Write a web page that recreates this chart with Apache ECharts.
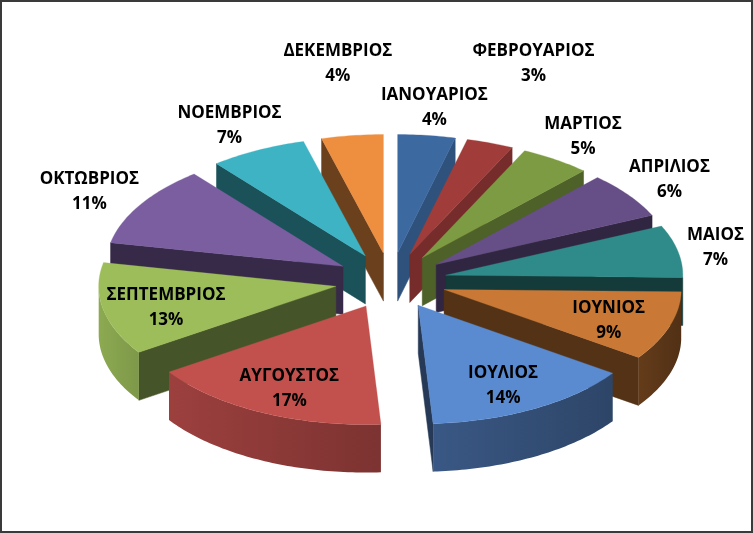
<!DOCTYPE html>
<html>
<head>
<meta charset="utf-8">
<script src="https://cdn.jsdelivr.net/npm/echarts@6/dist/echarts.min.js"></script>
<style>
  html, body { margin: 0; padding: 0; background: #fff; }
  #wrap { position: relative; width: 753px; height: 533px; }
  #chart { position: absolute; left: 0; top: 0; width: 753px; height: 533px; }
  #frame { position: absolute; left: 0; top: 0; width: 753px; height: 533px; box-sizing: border-box;
           border: 2px solid #3a3a3a; pointer-events: none; }
</style>
</head>
<body>
<div id="wrap"><div id="chart"></div><div id="frame"></div></div>
<script>
/* 3D exploded pie — monthly shares (labels show rounded %) */
const months = ['ΙΑΝΟΥΑΡΙΟΣ', 'ΦΕΒΡΟΥΑΡΙΟΣ', 'ΜΑΡΤΙΟΣ', 'ΑΠΡΙΛΙΟΣ', 'ΜΑΙΟΣ', 'ΙΟΥΝΙΟΣ',
  'ΙΟΥΛΙΟΣ', 'ΑΥΓΟΥΣΤΟΣ', 'ΣΕΠΤΕΜΒΡΙΟΣ', 'ΟΚΤΩΒΡΙΟΣ', 'ΝΟΕΜΒΡΙΟΣ', 'ΔΕΚΕΜΒΡΙΟΣ'];
const shares = [3.9, 3.2, 4.8, 6.3, 7.1, 9.4, 14.3, 16.6, 12.6, 11.0, 6.6, 4.2];
const topColors = ['#3D69A1', '#A03D3A', '#7D9B42', '#664E86', '#2F8B89', '#C97835',
  '#5A8AD0', '#C2504D', '#9CBD5A', '#7B5EA0', '#3DB3C4', '#EE8F40'];

const LABEL_FONT = 'bold 17px "Open Sans"';
const total = shares.reduce((s, v) => s + v, 0);
const pctText = (v) => Math.round(v / total * 100) + '%';

const chart = echarts.init(document.getElementById('chart'));

function shade(hex, f) {
  const n = parseInt(hex.slice(1), 16);
  const r = Math.round(((n >> 16) & 255) * f);
  const g = Math.round(((n >> 8) & 255) * f);
  const b = Math.round((n & 255) * f);
  return `rgb(${r},${g},${b})`;
}

let layoutCache = null;
function getLayout(W, H) {
  if (layoutCache && layoutCache.W === W && layoutCache.H === H) return layoutCache;
  const cx = W * 0.519, cy = H * 0.527, rx = W * 0.315, ry = rx * 0.5;
  const depth = H * 0.09, explode = 0.236;
  let acc = 0;
  const slices = shares.map((v) => {
    const a0 = acc / total * Math.PI * 2;
    acc += v;
    const a1 = acc / total * Math.PI * 2;
    const mid = (a0 + a1) / 2;
    return { a0, a1, mid, ox: cx + rx * explode * Math.sin(mid), oy: cy - ry * explode * Math.cos(mid) };
  });

  // labels: inside for big front slices, outside otherwise, pushed outward on overlap
  const ctx = document.createElement('canvas').getContext('2d');
  ctx.font = LABEL_FONT;
  const placed = [];
  const hits = (x, y, w, h) => placed.some((b) =>
    Math.abs(b.x - x) < (b.w + w) / 2 + 4 && Math.abs(b.y - y) < (b.h + h) / 2 + 2);
  slices.forEach((s, i) => {
    const sin = Math.sin(s.mid), cos = Math.cos(s.mid);
    const inside = shares[i] / total >= 0.09 && cos < 0;
    const w = Math.max(ctx.measureText(months[i]).width, ctx.measureText(pctText(shares[i])).width);
    const h = 42;
    let x, y;
    if (inside) {
      x = s.ox + rx * 0.73 * sin;
      y = s.oy - ry * 0.74 * cos + 4;
    } else {
      const gap = 10;
      x = s.ox + rx * sin + sin * (gap + w / 2);
      y = s.oy - ry * cos - cos * (gap + h / 2) + 3;
      const clampX = () => { x = Math.min(Math.max(x, w / 2 + 8), W - w / 2 - 6); };
      clampX();
      let k = 0;
      while (k < 80 && hits(x, y, w, h)) {
        x += sin * 3; y -= cos * 3; k++;
        clampX();
      }
    }
    placed.push({ x, y, w, h });
    s.label = { x, y };
  });
  layoutCache = { W, H, cx, cy, rx, ry, depth, slices };
  return layoutCache;
}

function arcPts(L, s, from, to, dy) {
  const n = Math.max(2, Math.ceil((to - from) / (Math.PI / 180)));
  const pts = [];
  for (let j = 0; j <= n; j++) {
    const a = from + (to - from) * j / n;
    pts.push([s.ox + L.rx * Math.sin(a), s.oy - L.ry * Math.cos(a) + dy]);
  }
  return pts;
}

function renderWalls(params, api) {
  const L = getLayout(api.getWidth(), api.getHeight());
  const i = params.dataIndex, s = L.slices[i], c = topColors[i], d = L.depth;
  const tip = [s.ox, s.oy];
  const children = [];
  // cut faces
  const faces = [
    [s.a0, Math.sin(s.a0) < -0.01, 0.45],
    [s.a1, Math.sin(s.a1) > 0.01, 0.42 + 0.38 * Math.pow(Math.max(0, Math.cos(s.a1)), 2)],
  ];
  faces.forEach(([a, vis, f]) => {
    if (!vis) return;
    const rim = [s.ox + L.rx * Math.sin(a), s.oy - L.ry * Math.cos(a)];
    const col = shade(c, f);
    children.push({
      type: 'polygon',
      shape: { points: [tip, rim, [rim[0], rim[1] + d], [tip[0], tip[1] + d]] },
      style: { fill: col, stroke: col, lineWidth: 0.5 },
      z2: Math.round((tip[1] + rim[1]) / 2 + d / 2),
    });
  });
  // outer curved wall, front half only
  const from = Math.max(s.a0, Math.PI / 2), to = Math.min(s.a1, Math.PI * 1.5);
  if (to > from) {
    const top = arcPts(L, s, from, to, 0);
    const bot = arcPts(L, s, from, to, d).reverse();
    const lum = (a) => 0.4 + 0.5 * (a - Math.PI / 2) / Math.PI;
    const my = top.reduce((t, p) => t + p[1], 0) / top.length + d / 2;
    children.push({
      type: 'polygon',
      shape: { points: top.concat(bot) },
      style: {
        fill: new echarts.graphic.LinearGradient(0, 0, 1, 0, [
          { offset: 0, color: shade(c, lum(to)) },
          { offset: 1, color: shade(c, lum(from)) },
        ]),
      },
      z2: Math.round(my),
    });
  }
  return { type: 'group', children };
}

function renderTops(params, api) {
  const L = getLayout(api.getWidth(), api.getHeight());
  const i = params.dataIndex, s = L.slices[i], c = topColors[i];
  const pts = [[s.ox, s.oy]].concat(arcPts(L, s, s.a0, s.a1, 0));
  return {
    type: 'group',
    children: [
      { type: 'polygon', shape: { points: pts }, style: { fill: c, stroke: c, lineWidth: 0.3 } },
      {
        type: 'text', x: s.label.x, y: s.label.y, z2: 100,
        style: {
          text: months[i] + '\n' + pctText(api.value(0)),
          fontSize: 17, fontWeight: 'bold', fontFamily: '"Open Sans", "Noto Sans", sans-serif',
          fill: '#000', align: 'center', verticalAlign: 'middle', lineHeight: 25,
        },
      },
    ],
  };
}

chart.setOption({
  backgroundColor: '#fff',
  animation: false,
  series: [
    { type: 'custom', coordinateSystem: 'none', z: 2, silent: true, data: shares, renderItem: renderWalls },
    { type: 'custom', coordinateSystem: 'none', z: 3, silent: true, data: shares, renderItem: renderTops },
  ],
});
</script>
</body>
</html>
